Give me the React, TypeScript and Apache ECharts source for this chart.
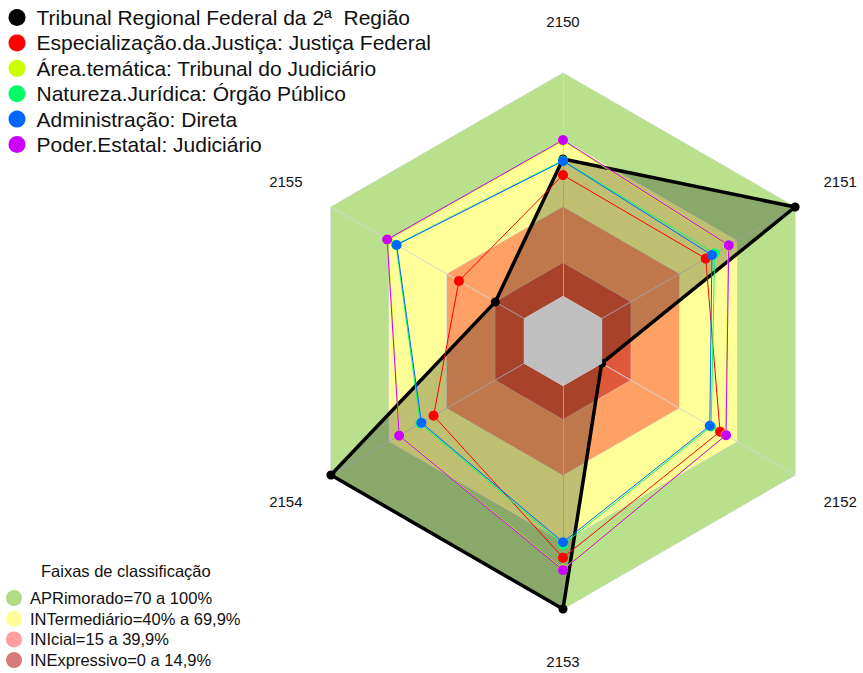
import React, { useEffect, useRef } from "react";
import * as echarts from "echarts";

// Axes (clockwise from top in the reference)
const axes = ["2150", "2151", "2152", "2153", "2154", "2155"];

// Series (values per axis, in the order of `axes`)
const seriesNames = [
  "Tribunal Regional Federal da 2ª  Região",
  "Especialização.da.Justiça: Justiça Federal",
  "Área.temática: Tribunal do Judiciário",
  "Natureza.Jurídica: Órgão Público",
  "Administração: Direta",
  "Poder.Estatal: Judiciário",
];
const seriesColors = ["#000000", "#FF0000", "#CCFF00", "#00FF66", "#0066FF", "#CC00FF"];
const tribunal = [61.5, 100, 0, 100, 100, 15];
const especializacao = [54.3, 53.8, 61.2, 77.0, 46.9, 33.8];
const areaTematica = [69.6, 65.4, 64.1, 82.2, 64.5, 70.6];
const natureza = [60.8, 58.4, 56.6, 71.2, 53.8, 66.3];
const administracao = [60.6, 57.0, 55.9, 70.1, 53.2, 66.0];
const poderEstatal = [70.0, 65.7, 64.3, 82.5, 64.7, 70.9];
const seriesValues = [tribunal, especializacao, areaTematica, natureza, administracao, poderEstatal];

// Classification bands
const bandNames = [
  "APRimorado=70 a 100%",
  "INTermediário=40% a 69,9%",
  "INIcial=15 a 39,9%",
  "INExpressivo=0 a 14,9%",
];
const bandUpper = [100, 70, 40, 15];
const bandFill = ["#B9E08C", "#FFFF99", "#FFA064", "#E0583A"];
const bandLegendColors = ["#B3DB85", "#FFFF99", "#FF9E9E", "#D67B7B"];
const coreValue = 0;
const axisMin = -20;
const axisMax = 100;
const legendTitle = "Faixas de classificação";

const FONT = "'Liberation Sans', Arial, Helvetica, sans-serif";

// clockwise ordering for ECharts (which places indicators counter-clockwise)
const order = [0, 5, 4, 3, 2, 1];
const reorder = (arr: number[]) => order.map((i) => arr[i]);

export default function App() {
  const ref = useRef<HTMLDivElement>(null);
  useEffect(() => {
    if (!ref.current) return;
    const chart = echarts.init(ref.current, undefined, { renderer: "svg" });

    const bandSeries = bandNames.map((name, i) => ({
      type: "radar",
      name,
      z: 0,
      silent: true,
      symbol: "none",
      lineStyle: { color: "#D6D6D6", width: 1 },
      areaStyle: { color: bandFill[i], opacity: 1 },
      itemStyle: { color: bandLegendColors[i] },
      data: [{ name, value: reorder(axes.map(() => bandUpper[i])) }],
    }));

    const coreSeries = {
      type: "radar",
      name: "core",
      z: 3,
      silent: true,
      symbol: "none",
      lineStyle: { color: "#D6D6D6", width: 1 },
      areaStyle: { color: "#C0C0C0", opacity: 1 },
      data: [{ name: "core", value: reorder(axes.map(() => coreValue)) }],
    };

    const mainSeries = seriesNames.map((name, i) => ({
      type: "radar",
      name,
      z: i === 0 ? 2 : 4,
      symbol: "circle",
      symbolSize: i === 0 ? 9 : 10,
      lineStyle: { color: seriesColors[i], width: i === 0 ? 3.5 : 1 },
      itemStyle: { color: seriesColors[i], borderWidth: 0 },
      areaStyle: i === 0 ? { color: "rgba(0,0,0,0.25)", opacity: 1 } : undefined,
      data: [{ name, value: reorder(seriesValues[i]) }],
    }));

    chart.setOption({
      animation: false,
      backgroundColor: "#FFFFFF",
      radar: {
        center: [563, 341],
        radius: 268,
        startAngle: 90,
        shape: "polygon",
        splitNumber: 1,
        z: 1,
        nameGap: 52,
        indicator: order.map((i) => ({ name: axes[i], min: axisMin, max: axisMax })),
        axisName: {
          color: "#111111",
          fontSize: 15,
          fontFamily: FONT,
          align: "center",
          verticalAlign: "middle",
        },
        axisLine: { show: true, lineStyle: { color: "#D6D6D6", width: 1 } },
        splitLine: { show: false },
        splitArea: { show: false },
        axisTick: { show: false },
        axisLabel: { show: false },
      },
      legend: [
        {
          orient: "vertical",
          left: 8.5,
          top: 7,
          padding: 0,
          selectedMode: false,
          icon: "circle",
          itemWidth: 17,
          itemHeight: 17,
          itemGap: 4.4,
          itemStyle: { borderWidth: 0 },
          textStyle: { fontSize: 21, lineHeight: 21, fontFamily: FONT, color: "#111111", padding: [0, 0, 0, 6] },
          data: seriesNames.map((name, i) => ({ name, itemStyle: { color: seriesColors[i], borderWidth: 0 } })),
        },
        {
          orient: "vertical",
          left: 6,
          top: 589.5,
          height: 83,
          padding: 0,
          selectedMode: false,
          icon: "circle",
          itemWidth: 16,
          itemHeight: 16,
          itemGap: 3.7,
          itemStyle: { borderWidth: 0 },
          textStyle: { fontSize: 16.5, lineHeight: 16.5, fontFamily: FONT, color: "#111111", padding: [0, 0, 0, 3] },
          data: bandNames.map((name, i) => ({ name, itemStyle: { color: bandLegendColors[i], borderWidth: 0 } })),
        },
      ],
      graphic: [
        {
          type: "text",
          left: 41,
          top: 562,
          style: { text: legendTitle, fontSize: 16.5, fontFamily: FONT, fill: "#111111" },
        },
      ],
      series: [...bandSeries, coreSeries, ...mainSeries],
    });
    return () => chart.dispose();
  }, []);
  return (
    <div
      ref={ref}
      style={{ position: "fixed", left: 0, top: 0, width: 863, height: 673, background: "#fff" }}
    />
  );
}
